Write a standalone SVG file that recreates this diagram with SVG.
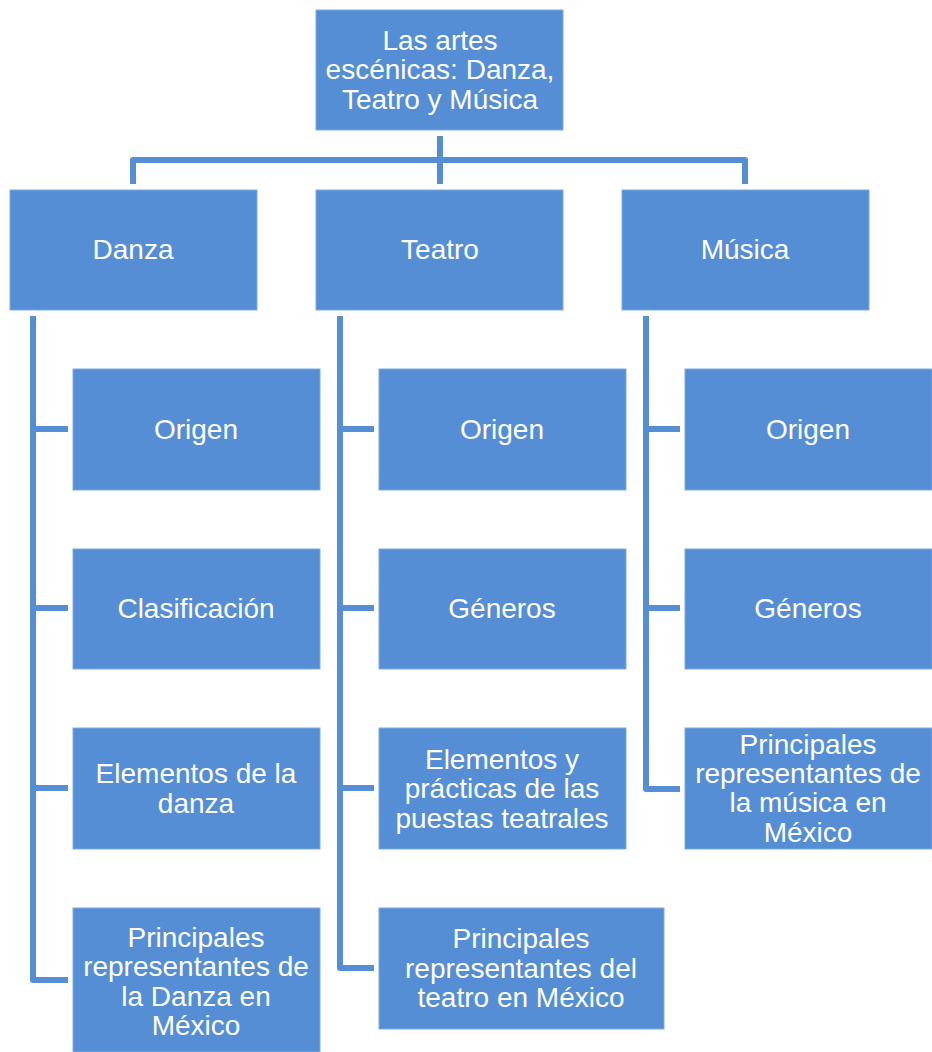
<svg xmlns="http://www.w3.org/2000/svg" width="932" height="1052" viewBox="0 0 932 1052">
<style>
.n{fill:#558ED5;stroke:#7FA9E0;stroke-width:1}
.t{font-family:"Liberation Sans",Arial,sans-serif;font-size:28px;fill:#fff;text-anchor:middle}
.c{fill:none;stroke:#558ED5;stroke-width:6;stroke-linejoin:round}
</style>
<rect width="932" height="1052" fill="#fff"/>
<g id="connectors">
<path class="c" d="M440 136V184M133 184V160H745V184"/>
<path class="c" d="M33 316V980H68M33 429H68M33 608H68M33 788H68"/>
<path class="c" d="M340 316V968H374M340 429H374M340 608H374M340 788H374"/>
<path class="c" d="M646 316V789H680M646 429H680M646 608H680"/>
</g>
<g id="root"><rect class="n" x="316" y="10" width="247" height="120"/><text class="t" x="440" y="50">Las artes</text><text class="t" x="440" y="79">escénicas: Danza,</text><text class="t" x="440" y="109">Teatro y Música</text></g>
<g id="danza"><rect class="n" x="10" y="190" width="247" height="120"/><text class="t" x="133" y="259">Danza</text></g>
<g id="teatro"><rect class="n" x="316" y="190" width="247" height="120"/><text class="t" x="440" y="259">Teatro</text></g>
<g id="musica"><rect class="n" x="622" y="190" width="247" height="120"/><text class="t" x="745" y="259">Música</text></g>
<g id="d1"><rect class="n" x="73" y="369" width="247" height="121"/><text class="t" x="196" y="439">Origen</text></g>
<g id="d2"><rect class="n" x="73" y="549" width="247" height="120"/><text class="t" x="196" y="618">Clasificación</text></g>
<g id="d3"><rect class="n" x="73" y="728" width="247" height="121"/><text class="t" x="196" y="783">Elementos de la</text><text class="t" x="196" y="813">danza</text></g>
<g id="d4"><rect class="n" x="73" y="908" width="247" height="144"/><text class="t" x="196" y="947">Principales</text><text class="t" x="196" y="976">representantes de</text><text class="t" x="196" y="1006">la Danza en</text><text class="t" x="196" y="1035">México</text></g>
<g id="t1"><rect class="n" x="379" y="369" width="247" height="121"/><text class="t" x="502" y="439">Origen</text></g>
<g id="t2"><rect class="n" x="379" y="549" width="247" height="120"/><text class="t" x="502" y="618">Géneros</text></g>
<g id="t3"><rect class="n" x="379" y="728" width="247" height="121"/><text class="t" x="502" y="769">Elementos y</text><text class="t" x="502" y="798">prácticas de las</text><text class="t" x="502" y="828">puestas teatrales</text></g>
<g id="t4"><rect class="n" x="379" y="908" width="285" height="121"/><text class="t" x="521" y="948">Principales</text><text class="t" x="521" y="978">representantes del</text><text class="t" x="521" y="1007">teatro en México</text></g>
<g id="m1"><rect class="n" x="685" y="369" width="247" height="121"/><text class="t" x="808" y="439">Origen</text></g>
<g id="m2"><rect class="n" x="685" y="549" width="247" height="120"/><text class="t" x="808" y="618">Géneros</text></g>
<g id="m3"><rect class="n" x="685" y="728" width="247" height="121"/><text class="t" x="808" y="754">Principales</text><text class="t" x="808" y="783">representantes de</text><text class="t" x="808" y="812">la música en</text><text class="t" x="808" y="842">México</text></g>
</svg>
